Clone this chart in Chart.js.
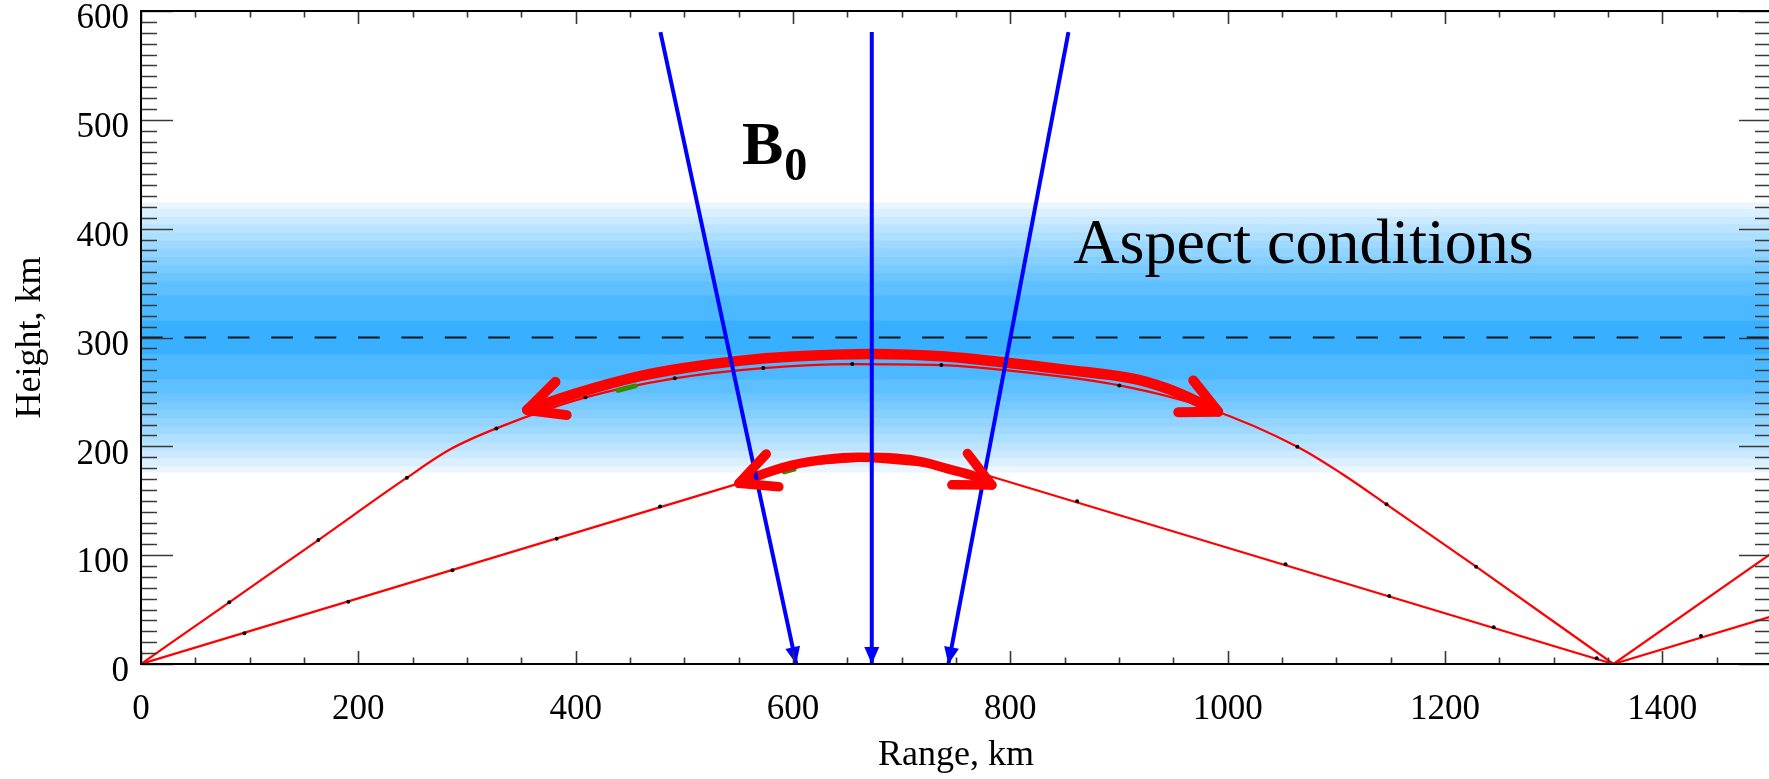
<!DOCTYPE html>
<html>
<head>
<meta charset="utf-8">
<title>Aspect conditions</title>
<script src="https://cdn.jsdelivr.net/npm/chart.js@4.4.1/dist/chart.umd.min.js"></script>
<style>
  html, body { margin: 0; padding: 0; background: #fff; overflow: hidden; }
  #wrap { width: 1769px; height: 779px; overflow: hidden; }
  canvas { display: block; }
</style>
</head>
<body>
<div id="wrap"><canvas id="rays" width="1775" height="779"></canvas></div>
<script>
// Axis extents and tick spacing (km)
const rangeMax = 1500;
const heightMax = 600;
const rangeMajor = 200, rangeMinor = 50;
const heightMajor = 100, heightMinor = 10;

// Aspect-condition layer: nested slabs around the layer peak, darkest in the middle
const bandCenter = 300;
const bandHalfWidths = [15.5, 38.5, 51.5, 59, 66.5, 74, 82, 89, 96.5, 104, 111, 118, 124];
const bandShades = ['#38afff', '#4bb8ff', '#5fc0ff', '#6cc5ff', '#78caff', '#85cfff',
                    '#92d4ff', '#9fd9ff', '#addfff', '#bce4ff', '#cbeaff', '#dbf0ff', '#eaf6fe'];

// Radar rays (range, height)
const upperRayX = [0, 81.2, 163.2, 244.7, 285, 327, 409, 491.2, 572.6, 654.5, 736.5, 818, 900.3, 982, 1064.1, 1104, 1146.2, 1228.6, 1355];
const upperRayY = [0, 56.7, 113.9, 171.2, 197.5, 216.5, 245, 262.5, 271.9, 275.6, 274.7, 267.5, 256, 235, 199.6, 175.5, 146.7, 89.4, 0];
const lowerRayX = [0, 550.3, 596, 665, 735, 780, 1355];
const lowerRayY = [0, 166, 182, 187, 181, 173, 0];
const hopLowX = [1355, 1500], hopLowY = [0, 43.6];
const hopHighX = [1355, 1500], hopHighY = [0, 101.5];

// Ray sample points
const upperDotsX = [81.2, 163.2, 244.7, 327, 409, 491.2, 572.6, 654.5, 736.5, 900.3, 1064.1, 1146.2, 1228.6];
const upperDotsY = [56.7, 113.9, 171.2, 216.5, 245, 262.5, 271.9, 275.6, 274.7, 256, 199.6, 146.7, 89.4];
const lowerDotsX = [95.2, 190.8, 286.6, 382.5, 477.7, 861.4, 1053.2, 1148.7, 1244.8, 1339.6, 1435.6];
const lowerDotsY = [28.2, 57.3, 86.1, 115.1, 144.7, 149.5, 91.6, 62.5, 33.7, 5.2, 25.7];

// Scattering spots on the rays
const spotUpperX = [439, 455], spotUpperY = [251.5, 255.5];
const spotLowerX = [592, 601], spotLowerY = [176.5, 179];

// Magnetic field lines B0
const fieldWestX = [478, 603], fieldWestY = [580.6, 0];
const fieldMidX = [672.5, 672.5], fieldMidY = [580.6, 0];
const fieldEastX = [853.5, 743], fieldEastY = [580.6, 0];

// Scattering regions (double arrows)
const arcUpperX = [355.2, 400, 459, 500, 550, 600, 673, 740, 789, 850, 918, 955, 991.3];
const arcUpperY = [233.4, 248.5, 264.5, 272, 278.5, 282.5, 284.8, 282.5, 277.7, 270.5, 261, 249, 231.8];
const arcLowerX = [550.3, 575, 600, 630, 660, 695, 720, 742, 766, 783];
const arcLowerY = [166, 175.5, 183, 188, 190, 189, 185.5, 179.5, 172.8, 164.4];

const serif = "'Liberation Serif', 'Times New Roman', serif";
Chart.defaults.font.family = serif;
Chart.defaults.color = '#000';

const xy = (xs, ys) => xs.map((x, i) => ({ x: x, y: ys[i] }));

function lineSet(xs, ys, color, width, order, extra) {
  return Object.assign({
    data: xy(xs, ys),
    borderColor: color,
    borderWidth: width,
    pointRadius: 0,
    fill: false,
    tension: 0,
    order: order
  }, extra || {});
}

function dotSet(xs, ys) {
  return {
    data: xy(xs, ys),
    showLine: false,
    pointRadius: 2,
    pointBackgroundColor: '#000',
    pointBorderWidth: 0,
    order: 70
  };
}

const datasets = [];

// widest slab first so the darker ones sit on top
bandHalfWidths.forEach((w, i) => {
  datasets.push({
    data: xy([0, rangeMax], [bandCenter + w, bandCenter + w]),
    fill: { value: bandCenter - w },
    backgroundColor: bandShades[i],
    borderColor: 'rgba(0,0,0,0)',
    borderWidth: 0,
    pointRadius: 0,
    order: 100 + i
  });
});

datasets.push(lineSet([0, rangeMax], [bandCenter, bandCenter], '#141414', 1.8, 90, { borderDash: [21.7, 21.7] }));

datasets.push(lineSet(upperRayX, upperRayY, '#ff0000', 2.2, 80, { cubicInterpolationMode: 'monotone' }));
datasets.push(lineSet(lowerRayX, lowerRayY, '#ff0000', 2.2, 80));
datasets.push(lineSet(hopLowX, hopLowY, '#ff0000', 2.2, 80));
datasets.push(lineSet(hopHighX, hopHighY, '#ff0000', 2.2, 80));

datasets.push(dotSet(upperDotsX, upperDotsY));
datasets.push(dotSet(lowerDotsX, lowerDotsY));

datasets.push(lineSet(spotUpperX, spotUpperY, '#3a8a00', 5, 60, { borderCapStyle: 'round' }));
datasets.push(lineSet(spotLowerX, spotLowerY, '#3a8a00', 5, 60, { borderCapStyle: 'round' }));

datasets.push(lineSet(arcUpperX, arcUpperY, '#ff0000', 10.5, 40, { cubicInterpolationMode: 'monotone', head: 'open', headWidth: 10 }));
datasets.push(lineSet(arcLowerX, arcLowerY, '#ff0000', 9.5, 40, { cubicInterpolationMode: 'monotone', head: 'open', headWidth: 9.5 }));

datasets.push(lineSet(fieldWestX, fieldWestY, '#0000ff', 4, 20, { head: 'filled' }));
datasets.push(lineSet(fieldMidX, fieldMidY, '#0000ff', 4, 20, { head: 'filled' }));
datasets.push(lineSet(fieldEastX, fieldEastY, '#0000ff', 4, 20, { head: 'filled' }));

// filled triangle at the end of a line
function filledHead(ctx, tip, from, color) {
  const a = Math.atan2(from.y - tip.y, from.x - tip.x);
  const len = 17, half = 7.5;
  const bx = tip.x + len * Math.cos(a), by = tip.y + len * Math.sin(a);
  ctx.fillStyle = color;
  ctx.beginPath();
  ctx.moveTo(tip.x, tip.y);
  ctx.lineTo(bx - half * Math.sin(a), by + half * Math.cos(a));
  ctx.lineTo(bx + half * Math.sin(a), by - half * Math.cos(a));
  ctx.closePath();
  ctx.fill();
}

// open chevron made of two thick barbs
function openHead(ctx, tip, from, color, width) {
  const a = Math.atan2(from.y - tip.y, from.x - tip.x);
  const len = 40, spread = 26 * Math.PI / 180;
  ctx.strokeStyle = color;
  ctx.lineWidth = width;
  ctx.lineCap = 'round';
  [-1, 1].forEach(s => {
    ctx.beginPath();
    ctx.moveTo(tip.x, tip.y);
    ctx.lineTo(tip.x + len * Math.cos(a + s * spread), tip.y + len * Math.sin(a + s * spread));
    ctx.stroke();
  });
}

const decor = {
  id: 'decor',
  afterDatasetsDraw(chart) {
    const ctx = chart.ctx;
    ctx.save();
    chart.data.datasets.forEach((ds, i) => {
      if (!ds.head) return;
      const pts = chart.getDatasetMeta(i).data;
      const n = pts.length;
      if (ds.head === 'filled') {
        filledHead(ctx, pts[n - 1], pts[n - 2], ds.borderColor);
      } else {
        openHead(ctx, pts[0], pts[1], ds.borderColor, ds.headWidth);
        openHead(ctx, pts[n - 1], pts[n - 2], ds.borderColor, ds.headWidth);
      }
    });
    ctx.restore();
  },
  afterDraw(chart) {
    const { ctx, chartArea: a, scales: { x, y } } = chart;
    ctx.save();

    // inward tick marks on all four sides
    ctx.strokeStyle = '#383838';
    ctx.lineWidth = 1.6;
    ctx.beginPath();
    for (let v = 0; v <= rangeMax; v += rangeMinor) {
      const px = Math.round(x.getPixelForValue(v)) + 0.5;
      const len = v % rangeMajor === 0 ? 13 : 6.5;
      ctx.moveTo(px, a.bottom); ctx.lineTo(px, a.bottom - len);
      ctx.moveTo(px, a.top); ctx.lineTo(px, a.top + len);
    }
    for (let v = 0; v <= heightMax; v += heightMinor) {
      const py = Math.round(y.getPixelForValue(v)) + 0.5;
      const len = v % heightMajor === 0 ? 32 : 16;
      ctx.moveTo(a.left, py); ctx.lineTo(a.left + len, py);
      ctx.moveTo(a.right, py); ctx.lineTo(a.right - len, py);
    }
    ctx.stroke();

    // plot frame
    ctx.strokeStyle = '#000';
    ctx.lineWidth = 2;
    ctx.strokeRect(a.left, a.top, a.right - a.left, a.bottom - a.top);

    // annotations
    ctx.fillStyle = '#000';
    ctx.textBaseline = 'alphabetic';
    ctx.textAlign = 'left';
    ctx.font = 'bold 62px ' + serif;
    const bx = x.getPixelForValue(553), by = y.getPixelForValue(459);
    ctx.fillText('B', bx, by);
    const bw = ctx.measureText('B').width;
    ctx.font = 'bold 46px ' + serif;
    ctx.fillText('0', bx + bw + 1, y.getPixelForValue(444.5));

    ctx.font = '64px ' + serif;
    ctx.fillText('Aspect conditions', x.getPixelForValue(858), y.getPixelForValue(368));
    ctx.restore();
  }
};

new Chart(document.getElementById('rays'), {
  type: 'line',
  data: { datasets: datasets },
  options: {
    responsive: false,
    animation: false,
    events: [],
    layout: { padding: { top: 11, right: 1, left: 0, bottom: 0 } },
    plugins: { legend: { display: false }, tooltip: { enabled: false } },
    scales: {
      x: {
        type: 'linear',
        min: 0,
        max: rangeMax,
        border: { display: false },
        grid: { display: false, drawTicks: false },
        ticks: {
          stepSize: rangeMajor,
          includeBounds: false,
          padding: 25,
          maxRotation: 0,
          autoSkip: false,
          color: '#000',
          font: { size: 35 },
          callback: v => String(v)
        },
        title: { display: true, text: 'Range, km', color: '#000', font: { size: 36 }, padding: { top: 0, bottom: 2 } },
        afterFit(s) { s.height = 115; s.paddingLeft = 0; s.paddingRight = 0; }
      },
      y: {
        type: 'linear',
        min: 0,
        max: heightMax,
        border: { display: false },
        grid: { display: false, drawTicks: false },
        ticks: {
          stepSize: heightMajor,
          padding: 12,
          labelOffset: 8,
          color: '#000',
          font: { size: 35 },
          callback: v => String(v)
        },
        title: { display: true, text: 'Height, km', color: '#000', font: { size: 36 }, padding: { top: 9, bottom: 0 } },
        afterFit(s) { s.width = 141; s.paddingTop = 0; s.paddingBottom = 0; }
      }
    }
  },
  plugins: [decor]
});
</script>
</body>
</html>
